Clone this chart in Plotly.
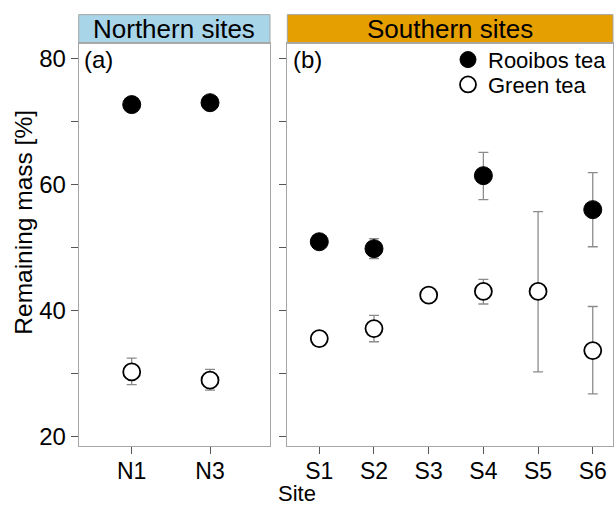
import plotly.graph_objects as go

# ---- data ----
north_sites = ["N1", "N3"]
south_sites = ["S1", "S2", "S3", "S4", "S5", "S6"]

rooibos_north = [72.7, 73.0]
rooibos_north_hi = [0.0, 0.0]
rooibos_north_lo = [0.0, 0.0]
green_north = [30.2, 28.9]
green_north_hi = [2.2, 1.7]
green_north_lo = [2.0, 1.6]

rooibos_south = [50.9, 49.8, None, 61.4, None, 56.0]
rooibos_south_hi = [0.0, 1.6, 0.0, 3.7, 0.0, 5.9]
rooibos_south_lo = [0.0, 1.6, 0.0, 3.8, 0.0, 5.9]
green_south = [35.5, 37.1, 42.4, 43.0, 43.0, 33.6]
green_south_hi = [0.0, 2.1, 0.0, 1.9, 12.7, 7.0]
green_south_lo = [0.0, 2.1, 0.0, 2.0, 12.8, 6.9]

y_tickvals = [20, 30, 40, 50, 60, 70, 80]
y_ticktext = ["20", "", "40", "", "60", "", "80"]

W, H = 614, 509
FONT = "Liberation Sans, Arial, sans-serif"


def px_x(p):
    return p / W


def px_y(p):
    return 1 - p / H


dom_a = [px_x(78.7), px_x(270)]
dom_b = [px_x(287.3), px_x(613)]
dom_y = [px_y(448.7), px_y(43.7)]

fig = go.Figure()

err_style = dict(type="data", symmetric=False, color="#8c8c8c", thickness=1.3, width=5)
rooibos_marker = dict(symbol="circle", size=18, color="black", line=dict(color="black", width=1))
green_marker = dict(symbol="circle", size=17, color="white", line=dict(color="black", width=1.8))

fig.add_trace(go.Scatter(
    x=north_sites, y=rooibos_north, mode="markers", marker=rooibos_marker,
    error_y=dict(array=rooibos_north_hi, arrayminus=rooibos_north_lo, **err_style),
    xaxis="x", yaxis="y", showlegend=False, name="Rooibos tea"))
fig.add_trace(go.Scatter(
    x=north_sites, y=green_north, mode="markers", marker=green_marker,
    error_y=dict(array=green_north_hi, arrayminus=green_north_lo, **err_style),
    xaxis="x", yaxis="y", showlegend=False, name="Green tea"))
fig.add_trace(go.Scatter(
    x=south_sites, y=rooibos_south, mode="markers", marker=rooibos_marker,
    error_y=dict(array=rooibos_south_hi, arrayminus=rooibos_south_lo, **err_style),
    xaxis="x2", yaxis="y2", showlegend=True, legend="legend", name="Rooibos tea"))
fig.add_trace(go.Scatter(
    x=south_sites, y=green_south, mode="markers", marker=green_marker,
    error_y=dict(array=green_south_hi, arrayminus=green_south_lo, **err_style),
    xaxis="x2", yaxis="y2", showlegend=True, legend="legend2", name="Green tea"))

axis_common = dict(showline=True, mirror=True, linecolor="#a6a6a6", linewidth=1,
                   showgrid=False, zeroline=False, ticks="outside", ticklen=7,
                   tickcolor="#555555", tickwidth=1)
yfont = dict(family=FONT, size=24, color="black")
xfont = dict(family=FONT, size=23, color="black")

legend_common = dict(xanchor="left", yanchor="top", bgcolor="rgba(0,0,0,0)",
                     borderwidth=0, font=dict(family=FONT, size=22, color="black"),
                     itemsizing="trace")

fig.update_layout(
    width=W, height=H,
    margin=dict(l=0, r=0, t=0, b=0),
    paper_bgcolor="white", plot_bgcolor="white",
    font=dict(family=FONT, color="black"),
    xaxis=dict(domain=dom_a, type="category", range=[-0.677, 1.766],
               anchor="y", tickfont=xfont, ticklabelstandoff=-3, **axis_common),
    xaxis2=dict(domain=dom_b, type="category", range=[-0.585, 5.37],
                anchor="y2", tickfont=xfont, ticklabelstandoff=-3, **axis_common),
    yaxis=dict(domain=dom_y, range=[18.42, 82.42], tickvals=y_tickvals,
               ticktext=y_ticktext, anchor="x", tickfont=yfont, **axis_common),
    yaxis2=dict(domain=dom_y, range=[18.42, 82.42], tickvals=y_tickvals,
                ticktext=y_ticktext, showticklabels=False, anchor="x2",
                tickfont=yfont, **axis_common),
    legend=dict(x=px_x(448), y=px_y(39), **legend_common),
    legend2=dict(x=px_x(448), y=px_y(64), **legend_common),
)

strip_y0 = px_y(43.7)
strip_y1 = px_y(14.7)
for dom, col, label in [(dom_a, "#a9d5e8", "Northern sites"),
                        (dom_b, "#e69f00", "Southern sites")]:
    fig.add_shape(type="rect", xref="paper", yref="paper",
                  x0=dom[0], x1=dom[1], y0=strip_y0, y1=strip_y1,
                  fillcolor=col, line=dict(color="#a6a6a6", width=1), layer="below")
    fig.add_annotation(xref="paper", yref="paper", x=(dom[0] + dom[1]) / 2,
                       y=(strip_y0 + strip_y1) / 2, text=label, showarrow=False,
                       xanchor="center", yanchor="middle",
                       font=dict(family=FONT, size=26, color="black"))

fig.add_annotation(xref="paper", yref="paper", x=px_x(82), y=px_y(60), text="(a)",
                   showarrow=False, xanchor="left", yanchor="middle",
                   font=dict(family=FONT, size=24, color="black"))
fig.add_annotation(xref="paper", yref="paper", x=px_x(291), y=px_y(60), text="(b)",
                   showarrow=False, xanchor="left", yanchor="middle",
                   font=dict(family=FONT, size=24, color="black"))
fig.add_annotation(xref="paper", yref="paper", x=px_x(297), y=px_y(496.5), text="Site",
                   showarrow=False, xanchor="center", yanchor="middle",
                   font=dict(family=FONT, size=22, color="black"))
fig.add_annotation(xref="paper", yref="paper", x=px_x(24), y=px_y(224),
                   text="Remaining mass [%]", textangle=-90,
                   showarrow=False, xanchor="center", yanchor="middle",
                   font=dict(family=FONT, size=24.5, color="black"))

fig.write_html("out.html")
